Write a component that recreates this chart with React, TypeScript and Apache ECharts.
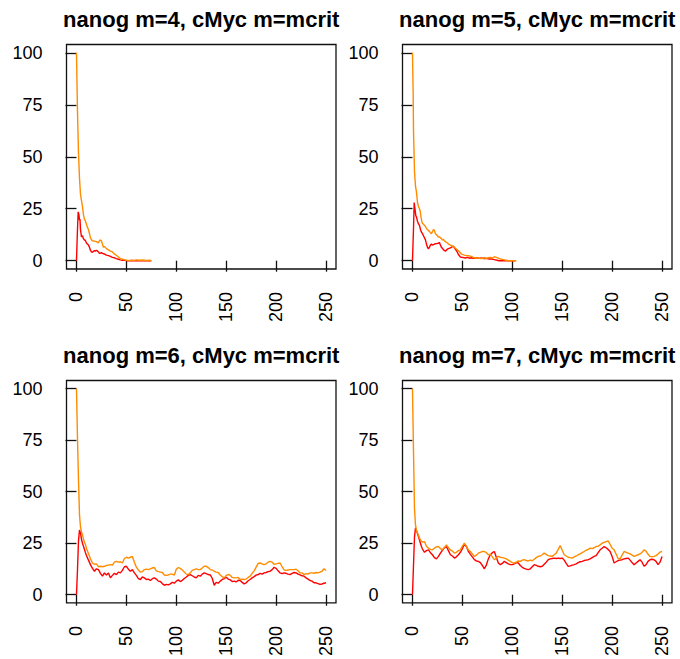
import React, { useEffect, useRef } from "react";
import * as echarts from "echarts";

const titles = [
  "nanog m=4, cMyc m=mcrit",
  "nanog m=5, cMyc m=mcrit",
  "nanog m=6, cMyc m=mcrit",
  "nanog m=7, cMyc m=mcrit",
];

const xTicks = [0, 50, 100, 150, 200, 250];
const yTicks = [0, 25, 50, 75, 100];

// Panel 1 (m=4)
const p1TimeOrange = [0, 1, 2, 3, 4, 5, 6, 7, 8, 9, 10, 11, 12, 13, 14, 15, 16, 18, 20, 22, 23, 24, 25, 26, 27, 28, 30, 32, 34, 36, 38, 40, 42, 44, 46, 48, 50, 52, 55, 58, 60, 63, 66, 70, 73, 75];
const p1Orange = [100, 72, 52, 40, 32, 29, 26, 22, 20, 19, 17.5, 16, 15, 13, 11, 10, 9.6, 9.4, 9.2, 8.6, 9.6, 10, 9.5, 8, 6.5, 6.8, 5.8, 5.2, 4.6, 4.2, 3.2, 2.6, 1.8, 1.0, 0.8, 0.4, 0.2, 0, 0.3, 0.1, 0.4, 0.2, 0.3, 0.1, 0.2, 0];
const p1TimeRed = [0, 1, 1.7, 2.5, 3, 3.5, 4, 5, 6, 7, 8, 9, 10, 11, 12, 13, 14, 15, 16, 17, 18, 19, 20, 21, 22, 23, 24, 25, 26, 28, 30, 32, 34, 36, 38, 40, 42, 44, 46, 48, 50, 55, 60, 65, 70, 75];
const p1Red = [0, 15, 23.5, 22, 19.5, 20, 15, 11.5, 12, 10.5, 10, 9.6, 8.5, 8, 7.5, 6.5, 5, 4.2, 4, 4.5, 4.8, 4.6, 5, 4.7, 4.2, 3.5, 3.6, 3.9, 3.5, 3.2, 2.7, 2.4, 2.1, 1.6, 1.4, 1.0, 0.7, 0.4, 0.2, 0.3, 0, 0, 0, 0, 0, 0];

// Panel 2 (m=5)
const p2TimeOrange = [0, 0.7, 1, 2, 3, 4, 5, 6, 7, 7.7, 8.5, 9.3, 10, 11, 12, 13, 14, 15, 16, 17, 18, 19, 20, 21, 22, 23, 24, 25, 26, 27, 28, 29, 30, 31, 32, 33, 34, 35, 36, 38, 40, 42, 44, 46, 48, 49, 50, 52, 54, 56, 58, 60, 62, 64, 66, 68, 70, 72, 74, 76, 78, 80, 82, 84, 86, 88, 90, 92, 94, 96, 100, 104];
const p2Orange = [100, 80, 63, 43, 36, 33, 28, 26, 25, 24, 21, 19, 18, 17.5, 17, 16.5, 15.5, 15, 14.5, 14, 13.5, 13, 14, 15, 14.5, 13, 12.5, 12, 11.3, 11.5, 11, 10.5, 10, 10.2, 9.5, 9.2, 8.8, 8.6, 8, 7.5, 7, 6.4, 5.6, 4.8, 3.8, 3.2, 3.0, 2.7, 2.5, 2.4, 2.2, 1.8, 1.4, 1.2, 1.4, 1.0, 1.2, 1.4, 1.1, 1.4, 1.6, 1.3, 1.9, 1.6, 1.2, 0.8, 0.6, 0.4, 0.2, 0, 0, 0];
const p2TimeRed = [0, 1, 1.7, 2.5, 3.3, 4, 5, 6, 7, 8, 9, 10, 11, 12, 13, 14, 15, 16, 17, 18, 19, 20, 22, 24, 26, 27, 28, 29, 30, 31, 32, 33, 34, 35, 36, 38, 40, 41, 42, 43, 44, 45, 46, 47, 48, 49, 51, 53, 55, 57, 59, 61, 63, 65, 67, 69, 71, 73, 75, 77, 79, 81, 83, 85, 86, 90, 95, 100, 103];
const p2Red = [0, 15, 28, 25, 21.7, 21, 19, 17.7, 17, 15, 13.7, 13, 12, 11, 10, 8, 6.5, 5.6, 6.5, 7.5, 8, 7.5, 8, 8.2, 8.4, 8.8, 7.5, 6.4, 6, 5.2, 5, 4.5, 5, 5.6, 5.8, 6.2, 6.8, 7, 6.2, 5.5, 4.8, 4, 3, 2.4, 1.8, 1.6, 1.5, 1.3, 1.6, 1.2, 1.4, 1.2, 1.3, 1.5, 1.1, 1.3, 1.0, 1.2, 1.0, 0.8, 0.8, 0.6, 0.4, 0.2, 0, 0, 0, 0, 0];

// Panels 3 & 4 share a time grid
const p34Time = [0, 1, 2, 3, 4, 5, 6, 7, 8, 9, 10, 12, 14, 16, 18, 20, 22, 24, 26, 28, 30, 32, 34, 36, 38, 40, 42, 44, 46, 48, 50, 52, 54, 56, 58, 60, 62, 64, 66, 68, 70, 72, 74, 76, 78, 80, 82, 84, 86, 88, 90, 92, 94, 96, 98, 100, 102, 104, 106, 108, 110, 112, 114, 116, 118, 120, 122, 124, 126, 128, 130, 132, 134, 136, 138, 140, 142, 144, 146, 148, 150, 152, 154, 156, 158, 160, 162, 164, 166, 168, 170, 172, 174, 176, 178, 180, 182, 184, 186, 188, 190, 192, 194, 196, 198, 200, 202, 204, 206, 208, 210, 212, 214, 216, 218, 220, 222, 224, 226, 228, 230, 232, 234, 236, 238, 240, 242, 244, 246, 248, 250];

const p3Orange = [100, 76, 56, 39, 33, 30.5, 29, 27, 25.5, 24.4, 22.5,
  20, 17.5, 15.4, 14.8, 15, 13.6, 13.8, 13.6, 13.8, 14.2, 14.4, 14.6, 14.4, 15.8, 16.2, 15.8, 16, 15.4, 17.6, 18.2, 17.8, 18.2, 18.6, 15.8, 13.4, 12, 11, 11.2, 12.2, 12.4, 12.2, 12.6, 13, 13.2, 11.6, 11.2, 11, 10.8, 9.6, 9.4, 9.6, 10, 10, 9.5, 12.4, 13.2, 12.8, 12, 11, 10, 9.8, 10.6, 11.8, 12.2, 12.6, 12.2, 12.2, 13, 13.8, 13.8, 13.2, 12.2, 12, 11.4, 11, 10.8, 9.6, 8.8, 8.2, 9.4, 9.8, 9.5, 8.4, 8.2, 8.2, 8.4, 7.4, 7.6, 7.4, 7.6, 8.4, 9, 10.4, 11.6, 13.4, 15.2, 15.4, 15, 14.6, 15, 15.8, 16.2, 15.8, 14.8, 15, 15.2, 15.4, 13.6, 12, 11.8, 12, 12.2, 12.2, 12.2, 12.4, 11.6, 10.6, 10.6, 9.8, 10.2, 10, 10.6, 10.6, 10.4, 10.8, 10.6, 11, 11.4, 12.6, 11.8];
const p3Red = [0, 12, 26, 31.4, 30, 27, 25, 23.5, 22, 20.4, 19,
  16.8, 14.6, 12.8, 11.4, 12.6, 12.2, 10.4, 9, 10.6, 9.6, 10.6, 8.2, 9.4, 10.4, 9.8, 11, 10.6, 11.8, 13.6, 13.8, 12.4, 11.4, 12.2, 10.6, 9.4, 7.8, 7.4, 8.6, 8.2, 7.4, 7.6, 6.9, 7.8, 8.2, 7.6, 6.6, 6.4, 5.4, 4.6, 5, 4.8, 5.3, 6, 5.6, 6.6, 7.2, 6.4, 7, 7.9, 8.6, 9.4, 9.8, 9.2, 8.6, 8.2, 9.4, 9, 10, 10.6, 10.2, 9.8, 9.6, 8, 4.6, 6, 5.6, 6.6, 7.4, 7.8, 8.5, 7.6, 7.2, 6.4, 6.6, 6.2, 7, 6.9, 6, 5.3, 5.8, 6.8, 7.4, 8.2, 8.8, 9.5, 9.8, 10.4, 10, 10.6, 10.8, 11.2, 11.4, 12.2, 13.3, 12.8, 11.6, 10.6, 10.2, 10.6, 10.4, 10, 9.8, 10.4, 10.8, 10.6, 10, 9.6, 9.2, 9, 8.2, 7.6, 6.9, 6.6, 5.8, 5.8, 5.4, 5, 5.2, 5.6, 5.8];

const p4Orange = [100, 70, 42, 34, 31, 30, 29, 27.5, 26.6, 26, 25.6,
  25.8, 23.5, 22.6, 22, 21.8, 22.6, 23.2, 23.4, 22.4, 21.8, 23, 24.2, 22.8, 21.8, 21.2, 20.2, 20.6, 21.4, 21.8, 23.6, 25, 23.6, 21.8, 21, 19.8, 18.6, 19.2, 20.2, 20.6, 21, 21, 20.4, 19.4, 19.6, 18.4, 17, 17.8, 18.6, 18.2, 18, 17.8, 17.4, 16.8, 16.2, 15.6, 15.4, 15.8, 16.4, 16.2, 16.8, 17, 16.6, 16.4, 16.8, 16.5, 17.2, 18, 18.6, 18.8, 19.4, 20.2, 19.6, 19, 18.8, 18.6, 19.4, 20.2, 22, 23.9, 21.6, 19.4, 18.8, 18.2, 18, 17.8, 18.4, 18.8, 19.4, 19.8, 20.4, 21, 21.6, 22, 22.6, 22.4, 22.8, 23.4, 23.6, 24.2, 25, 25.4, 25.8, 26.1, 24.4, 22.6, 21.8, 19.8, 17.6, 17.4, 19.2, 21, 20.6, 20.2, 19.8, 19.2, 18.6, 19, 19.4, 19.8, 20.6, 21.8, 21.2, 19.6, 18.6, 18.4, 18.6, 19, 19.8, 20.7, 21];
const p4Red = [0, 14, 28, 32.5, 31, 29.8, 28.2, 26.6, 25, 23.4, 22.2,
  20.6, 21.4, 21.8, 20.4, 19.4, 18, 17.4, 18.6, 20.2, 21.6, 22.8, 23.4, 21.4, 19.4, 18.8, 17.8, 18.4, 19.4, 20.6, 22.4, 24.5, 23.4, 21, 19.6, 18.4, 17, 16.4, 16.2, 15.6, 14.2, 12.6, 14.4, 17.4, 19.4, 20.4, 21, 18.2, 15.4, 14.6, 15.2, 16.2, 15.6, 15, 14.6, 14.6, 15, 15.6, 15.4, 14.2, 13.3, 12.8, 12.4, 12.2, 12.6, 13.6, 14.6, 14.2, 13.8, 13.6, 13.8, 14.8, 15.8, 17, 17.4, 17.6, 17.8, 17.6, 17.8, 17.6, 17.8, 16.8, 15.2, 13.8, 14, 14.4, 14.6, 15, 15.6, 16, 16.2, 16.6, 16.8, 17, 17.4, 18, 18.6, 19, 20.4, 21.8, 22.6, 23.4, 22.8, 22, 21, 18.6, 15.4, 16, 16.6, 16.8, 17, 17.4, 17.6, 17.8, 16.8, 15.6, 14.6, 15.4, 16.2, 17, 15.8, 13.8, 14.6, 16.2, 17, 17.2, 17, 16.2, 14.6, 15.8, 18.6];

const RED = "#FF0000";
const ORANGE = "#FF8C00";
const FONT = "'Liberation Sans', Arial, Helvetica, sans-serif";

const grids = [
  { left: 66.5, top: 44.5, width: 269.5, height: 224.5 },
  { left: 402.5, top: 44.5, width: 269.5, height: 224.5 },
  { left: 66.5, top: 380.5, width: 269.5, height: 224.5 },
  { left: 402.5, top: 380.5, width: 269.5, height: 224.5 },
];

const panels = [
  { tRed: p1TimeRed, red: p1Red, tOrange: p1TimeOrange, orange: p1Orange },
  { tRed: p2TimeRed, red: p2Red, tOrange: p2TimeOrange, orange: p2Orange },
  { tRed: p34Time, red: p3Red, tOrange: p34Time, orange: p3Orange },
  { tRed: p34Time, red: p4Red, tOrange: p34Time, orange: p4Orange },
];

function pairs(t: number[], v: number[]) {
  return t.map((x, i) => [x, v[i]]);
}

export default function App() {
  const ref = useRef<HTMLDivElement>(null);
  useEffect(() => {
    if (!ref.current) return;
    const chart = echarts.init(ref.current, null, { renderer: "svg" });
    const tickStyle = { color: "#111", width: 1.3 };
    const option: any = {
      animation: false,
      backgroundColor: "#fff",
      grid: grids.map((g) => ({ ...g, show: true, borderColor: "#111", borderWidth: 1.3, backgroundColor: "transparent", containLabel: false })),
      xAxis: grids.map((_, i) => ({
        type: "value",
        gridIndex: i,
        min: -10,
        max: 260,
        splitLine: { show: false },
        axisLine: { show: false },
        axisTick: { show: true, length: 11, lineStyle: tickStyle, customValues: xTicks },
        axisLabel: { rotate: 90, margin: 23, fontSize: 18, color: "#000", fontFamily: FONT, customValues: xTicks },
      })),
      yAxis: grids.map((_, i) => ({
        type: "value",
        gridIndex: i,
        min: -4,
        max: 104,
        splitLine: { show: false },
        axisLine: { show: false },
        axisTick: { show: true, length: 11, lineStyle: tickStyle, customValues: yTicks },
        axisLabel: { margin: 24, fontSize: 18, color: "#000", fontFamily: FONT, customValues: yTicks },
      })),
      series: panels.flatMap((p, i) => [
        {
          type: "line",
          xAxisIndex: i,
          yAxisIndex: i,
          data: pairs(p.tRed, p.red),
          showSymbol: false,
          symbol: "none",
          lineStyle: { color: RED, width: 1.4 },
          itemStyle: { color: RED },
          z: 2,
        },
        {
          type: "line",
          xAxisIndex: i,
          yAxisIndex: i,
          data: pairs(p.tOrange, p.orange),
          showSymbol: false,
          symbol: "none",
          lineStyle: { color: ORANGE, width: 1.4 },
          itemStyle: { color: ORANGE },
          z: 3,
        },
      ]),
      graphic: grids.map((g, i) => ({
        type: "text",
        x: g.left + g.width / 2,
        y: i < 2 ? 19 : 355,
        style: {
          text: titles[i],
          align: "center",
          verticalAlign: "middle",
          fontSize: 22,
          fontWeight: "bold",
          fontFamily: FONT,
          fill: "#000",
        },
      })),
    };
    chart.setOption(option);
    return () => chart.dispose();
  }, []);
  return <div ref={ref} style={{ position: "absolute", left: 0, top: 0, width: 680, height: 659 }} />;
}
